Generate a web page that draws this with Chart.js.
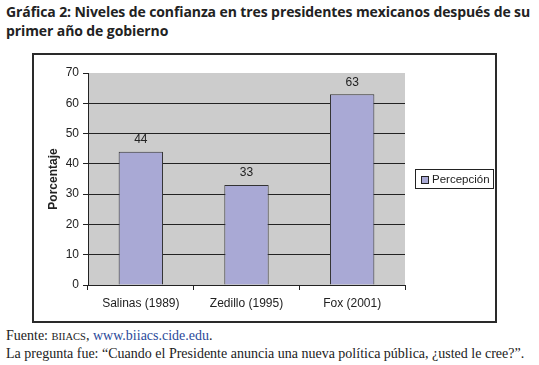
<!DOCTYPE html>
<html>
<head>
<meta charset="utf-8">
<script src="https://cdn.jsdelivr.net/npm/chart.js@4.4.0/dist/chart.umd.min.js"></script>
<style>
  body { margin: 0; width: 539px; height: 365px; background: #fff; position: relative; overflow: hidden; }
  #title { position: absolute; left: 6px; top: 2px; font: bold 14px "Open Sans", sans-serif; color: #222; line-height: 19px; letter-spacing: -0.1px; white-space: nowrap; }
  #box { position: absolute; left: 32px; top: 53px; width: 461px; height: 266px; border: 2px solid #2a2a2a; }
  #foot { position: absolute; left: 6px; top: 327px; font: 14px "Liberation Serif", serif; color: #222; line-height: 17px; white-space: nowrap; }
  #foot .sc { font-size: 10.5px; }
  #foot a { color: #2b4a9a; text-decoration: none; }
</style>
</head>
<body>
<div id="title">Gráfica 2: Niveles de confianza en tres presidentes mexicanos después de su<br>primer año de gobierno</div>
<div id="box"><canvas id="myChart" width="461" height="266"></canvas></div>
<div id="foot">Fuente: <span class="sc">BIIACS</span>, <a>www.biiacs.cide.edu</a>.<br>La pregunta fue: “Cuando el Presidente anuncia una nueva política pública, ¿usted le cree?”.</div>
<script>
const categories = ["Salinas (1989)", "Zedillo (1995)", "Fox (2001)"];
const percepcion = [44, 33, 63];
const yTicks = [0, 10, 20, 30, 40, 50, 60, 70];
const seriesName = "Percepción";

const barColor = "#a9a9d5";
const ink = "#222";

// gray plot background + value labels + boxed legend
const extras = {
  id: "extras",
  beforeDraw(chart) {
    const a = chart.chartArea, c = chart.ctx;
    c.save();
    c.fillStyle = "#cccccc";
    c.fillRect(a.left, a.top, a.right - a.left, a.bottom - a.top);
    c.restore();
  },
  afterDatasetsDraw(chart) {
    const c = chart.ctx;
    const meta = chart.getDatasetMeta(0);
    c.save();
    c.font = "12px 'Liberation Sans', Arial, sans-serif";
    c.fillStyle = ink;
    c.textAlign = "center";
    c.textBaseline = "bottom";
    meta.data.forEach((bar, i) => {
      c.fillText(String(percepcion[i]), bar.x, bar.y - 6);
    });
    // legend
    const a = chart.chartArea;
    const lx = a.right + 10, ly = 114, lw = 78, lh = 19;
    c.strokeStyle = ink;
    c.lineWidth = 1;
    c.strokeRect(lx + 0.5, ly + 0.5, lw, lh);
    c.fillStyle = barColor;
    c.fillRect(lx + 6, ly + 7, 7, 7);
    c.strokeRect(lx + 6.5, ly + 7.5, 7, 7);
    c.fillStyle = ink;
    c.font = "11.5px 'Liberation Sans', Arial, sans-serif";
    c.textAlign = "left";
    c.textBaseline = "middle";
    c.fillText(seriesName, lx + 17, ly + lh / 2 + 1);
    c.restore();
  }
};

const ctx = document.getElementById("myChart").getContext("2d");
new Chart(ctx, {
  type: "bar",
  data: {
    labels: categories,
    datasets: [{
      label: seriesName,
      data: percepcion,
      backgroundColor: barColor,
      borderColor: "#333",
      borderWidth: 1,
      categoryPercentage: 1,
      barPercentage: 0.42
    }]
  },
  options: {
    responsive: false,
    animation: false,
    layout: { padding: { top: 18, right: 90, bottom: 0, left: 0 } },
    plugins: { legend: { display: false }, tooltip: { enabled: false } },
    scales: {
      x: {
        afterFit(s) { s.height = 36; },
        grid: { offset: true, drawOnChartArea: false, drawTicks: true, tickLength: 5, color: ink, tickColor: ink },
        border: { color: ink, width: 1 },
        ticks: { color: ink, padding: 6, font: { family: "'Liberation Sans', Arial, sans-serif", size: 12 } }
      },
      y: {
        min: 0, max: 70,
        afterFit(s) { s.width = 54; },
        afterBuildTicks(s) { s.ticks = yTicks.map(v => ({ value: v })); },
        grid: {
          color: c => (c.tick && c.tick.value === 70) ? "rgba(0,0,0,0)" : ink,
          tickColor: ink, tickLength: 5
        },
        border: { color: ink, width: 1 },
        ticks: { color: ink, padding: 4, font: { family: "'Liberation Sans', Arial, sans-serif", size: 12 } },
        title: {
          display: true, text: "Porcentaje", color: ink,
          padding: { top: 12, bottom: 0 },
          font: { family: "'Liberation Sans', Arial, sans-serif", size: 12, weight: "bold" }
        }
      }
    }
  },
  plugins: [extras]
});
</script>
</body>
</html>
